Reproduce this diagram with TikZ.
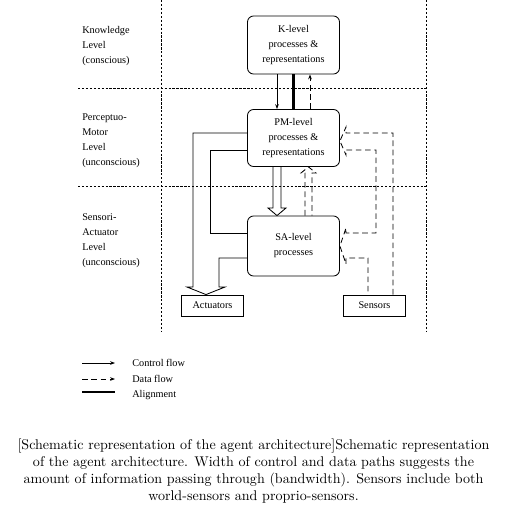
\documentclass[tikz,border=0pt]{standalone}
\usepackage{fontspec}
\newfontfamily\figfont{Liberation Serif}
\usetikzlibrary{arrows.meta}

\tikzset{
  fig/.style={font=\figfont\fontsize{7.3}{10.7}\selectfont},
  box/.style={fig, draw, line width=0.6pt, rounded corners=4.3pt, minimum width=2.3cm, align=center, inner sep=0pt},
  flat/.style={fig, draw, line width=0.6pt, minimum width=1.55cm, minimum height=0.525cm, inner sep=0pt},
  lvl/.style={fig, align=left, anchor=north west, inner sep=0pt},
  border/.style={line width=0.5pt, dash pattern=on 1.6pt off 1.2pt},
  ctl/.style={line width=0.6pt},
  dat/.style={line width=0.6pt, dash pattern=on 4pt off 2.6pt},
  tip/.style={-{Stealth[length=3.5pt,width=2.6pt]}}
}

\begin{document}
\begin{tikzpicture}[x=0.025cm, y=-0.025cm]
\useasboundingbox (0,0) rectangle (507,507);

\draw[border] (161,0) -- (161,332);
\draw[border] (426,0) -- (426,332);
\draw[border] (78,88) -- (426,88);
\draw[border] (78,186) -- (426,186);

\node[lvl] (klev) at (82,26) {Knowledge\\Level\\(conscious)};
\node[lvl] (pmlev) at (82,113) {Perceptuo-\\Motor\\Level\\(unconscious)};
\node[lvl] (salev) at (82,213) {Sensori-\\Actuator\\Level\\(unconscious)};

\node[box, minimum height=1.45cm] (K) at (293.5,45) {K-level\\processes \&\\representations};
\node[box, minimum height=1.425cm] (PM) at (293.5,138) {PM-level\\processes \&\\representations};
\node[box, minimum height=1.5cm] (SA) at (293.5,246) {SA-level\\processes};
\node[flat] (act) at (212.5,305.5) {Actuators};
\node[flat] (sens) at (374.5,305.5) {Sensors};

\draw[ctl, tip] (K.south -| 277,0) -- (PM.north -| 277,0);
\draw[line width=1.5pt] (K.south -| 293.5,0) -- (PM.north -| 293.5,0);
\draw[dat, tip] (PM.north -| 310,0) -- (K.south -| 310,0);

\draw[ctl] (PM.south -| 273,0) -- (273,208) -- (268,208) -- (SA.north -| 277,0)
  -- (286,208) -- (281,208) -- (PM.south -| 281,0);
\draw[dat] (SA.north -| 305,0) -- (305,173) -- (301,173) -- (PM.south -| 308.5,0)
  -- (316,173) -- (312,173) -- (SA.north -| 312,0);

\draw[ctl] (PM.west |- 0,133) -| (193,287) -- (187,287) -- (act.north -| 206,0)
  -- (225,287) -- (219,287) |- (SA.west |- 0,258);
\draw[ctl] (PM.west |- 0,150) -| (210,233) -- (SA.west |- 0,233);

\draw[dat] (sens.north -| 393,0) |- (346,133) -- (346,127) -- (PM.east |- 0,141)
  -- (346,155) -- (346,150) -| (376,233) -- (346,233) -- (346,228)
  -- (SA.east |- 0,246) -- (346,264) -- (346,258) -| (sens.north -| 368,0);

\node[fig, anchor=west, inner sep=0pt] (lctl) at (132,363) {Control flow};
\node[fig, anchor=west, inner sep=0pt] (ldat) at (132,379) {Data flow};
\node[fig, anchor=west, inner sep=0pt] (lali) at (132,395) {Alignment};
\coordinate (c1) at (82,363);
\coordinate (c2) at (82,379);
\coordinate (c3) at (82,392);
\draw[ctl, tip] (c1) -- ++(33,0);
\draw[dat, tip] (c2) -- ++(33,0);
\draw[line width=1.5pt] (c3) -- ++(33,0);

\node[align=center, inner sep=0pt] (cap) at (253.5,471) {[Schematic representation of the agent architecture]Schematic representation\\of the agent architecture. Width of control and data paths suggests the\\amount of information passing through (bandwidth). Sensors include both\\world-sensors and proprio-sensors.};

\end{tikzpicture}
\end{document}
